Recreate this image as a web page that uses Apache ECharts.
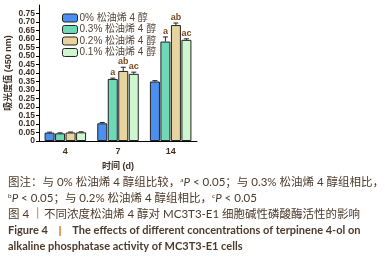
<!DOCTYPE html>
<html>
<head>
<meta charset="utf-8">
<script src="https://cdn.jsdelivr.net/npm/echarts@6/dist/echarts.min.js"></script>
<style>
  html, body { margin: 0; padding: 0; background: #fff; }
  #chart { width: 385px; height: 262px; }
</style>
</head>
<body>
<div id="chart"></div>
<script>
const categories = ["4", "7", "14"];
const seriesNames = ["0% 松油烯 4 醇", "0.3% 松油烯 4 醇", "0.2% 松油烯 4 醇", "0.1% 松油烯 4 醇"];
const values0 = [0.049, 0.104, 0.350];
const values03 = [0.045, 0.365, 0.585];
const values02 = [0.050, 0.412, 0.682];
const values01 = [0.051, 0.395, 0.595];
const errors0 = [0.003, 0.005, 0.005];
const errors03 = [0.003, 0.005, 0.027];
const errors02 = [0.003, 0.022, 0.012];
const errors01 = [0.003, 0.010, 0.006];
const marks0 = ["", "", ""];
const marks03 = ["", "a", "a"];
const marks02 = ["", "ab", "ab"];
const marks01 = ["", "ac", "ac"];
const yTicks = [0, 0.05, 0.1, 0.15, 0.2, 0.25, 0.3, 0.35, 0.4, 0.45, 0.5, 0.55, 0.6, 0.65, 0.7, 0.75];

const colors = ["#4b8ff0", "#6fd8b6", "#e8d49e", "#cff7cf"];
const textColor = "#3f3024";
const capColor = "#4d3a2a";
const barW = 10;
const step = barW * 1.05;

const allValues = [values0, values03, values02, values01];
const allErrors = [errors0, errors03, errors02, errors01];
const allMarks = [marks0, marks03, marks02, marks01];

// error bars + significance letters, one item per bar
const errData = [];
const errMarks = [];
allValues.forEach((vals, s) => {
  vals.forEach((v, c) => {
    errData.push([c, s, v, allErrors[s][c]]);
    errMarks.push(allMarks[s][c]);
  });
});

const chart = echarts.init(document.getElementById("chart"));

const barSeries = seriesNames.map((name, i) => ({
  name: name,
  type: "bar",
  data: allValues[i],
  barWidth: barW,
  barGap: "5%",
  itemStyle: { color: colors[i], borderColor: "#222", borderWidth: 1 },
}));

const supStyle = { fontSize: 6.5, padding: [0, 0, 6, 0], fill: capColor, fontFamily: "Lato" };
const itStyle = { fontSize: 11.5, fontStyle: "italic", fill: capColor, fontFamily: "Lato" };

const option = {
  animation: false,
  textStyle: { fontFamily: "Liberation Sans, Noto Sans CJK SC" },
  grid: { left: 39, top: 5, width: 158, height: 136 },
  legend: {
    orient: "vertical",
    left: 57,
    top: 8,
    itemWidth: 15,
    itemHeight: 8,
    itemGap: 1.5,
    data: seriesNames,
    textStyle: { fontSize: 10, color: "#524438", padding: [0, 0, 0, -3] },
    itemStyle: { borderColor: "#222", borderWidth: 1 },
  },
  xAxis: {
    type: "category",
    data: categories,
    name: "时间 (d)",
    nameLocation: "middle",
    nameGap: 21,
    nameTextStyle: { fontSize: 9, fontWeight: "bold", color: textColor },
    axisLine: { lineStyle: { color: "#000", width: 1 } },
    axisTick: { show: false },
    axisLabel: { fontSize: 9, fontWeight: "bold", color: textColor, margin: 6 },
  },
  yAxis: {
    type: "value",
    min: 0,
    max: 0.8,
    interval: 0.05,
    name: "吸光度值 (450 nm)",
    nameLocation: "middle",
    nameGap: 26,
    nameTextStyle: { fontSize: 9, fontWeight: "bold", color: textColor },
    splitLine: { show: false },
    axisLine: { show: true, lineStyle: { color: "#000", width: 1 } },
    axisTick: { show: true, length: 3, customValues: yTicks, lineStyle: { color: "#000" } },
    axisLabel: {
      fontSize: 8.5,
      fontWeight: "bold",
      color: textColor,
      margin: 4,
      customValues: yTicks,
      formatter: (v) => (v === 0 ? "0" : v.toFixed(2)),
    },
  },
  series: barSeries.concat([
    {
      type: "custom",
      data: errData,
      z: 5,
      encode: { x: 0, y: 2 },
      renderItem: function (params, api) {
        const c = api.value(0);
        const s = api.value(1);
        const v = api.value(2);
        const e = api.value(3);
        const base = api.coord([c, v]);
        const top = api.coord([c, v + e]);
        const x = base[0] + (s - 1.5) * step;
        const children = [
          { type: "line", shape: { x1: x, y1: base[1], x2: x, y2: top[1] }, style: { stroke: "#222", lineWidth: 1 } },
          { type: "line", shape: { x1: x - 2.5, y1: top[1], x2: x + 2.5, y2: top[1] }, style: { stroke: "#222", lineWidth: 1 } },
        ];
        const mark = errMarks[params.dataIndex];
        if (mark) {
          children.push({
            type: "text",
            x: x,
            y: top[1] - 1,
            style: {
              text: mark,
              fill: "#7a4a1e",
              fontSize: 9,
              fontWeight: "bold",
              fontFamily: "Liberation Sans",
              align: "center",
              verticalAlign: "bottom",
            },
          });
        }
        return { type: "group", children: children };
      },
    },
  ]),
  graphic: [
    {
      type: "text",
      left: 8,
      top: 176,
      style: {
        text: "图注：与 0% 松油烯 4 醇组比较，{sup|a}{it|P} < 0.05；与 0.3% 松油烯 4 醇组相比，",
        fontSize: 11.5,
        fontFamily: "Lato, Noto Sans CJK SC",
        fill: capColor,
        rich: { sup: supStyle, it: itStyle },
      },
    },
    {
      type: "text",
      left: 8,
      top: 192,
      style: {
        text: "{sup|b}{it|P} < 0.05；与 0.2% 松油烯 4 醇组相比，{sup|c}{it|P} < 0.05",
        fontSize: 11.5,
        fontFamily: "Lato, Noto Sans CJK SC",
        fill: capColor,
        rich: { sup: supStyle, it: itStyle },
      },
    },
    {
      type: "text",
      left: 8,
      top: 208,
      style: {
        text: "图 4 {bar|丨}不同浓度松油烯 4 醇对 MC3T3-E1 细胞碱性磷酸酶活性的影响",
        fontSize: 11.5,
        fontFamily: "Lato, Noto Sans CJK SC",
        fill: capColor,
        rich: { bar: { fill: "#e07b28", fontSize: 11.5 } },
      },
    },
    {
      type: "text",
      left: 8,
      top: 225,
      style: {
        text: "Figure 4    {bar||}    The effects of different concentrations of terpinene 4-ol on",
        fontSize: 11,
        fontWeight: "bold",
        fontFamily: "Lato",
        fill: capColor,
        rich: { bar: { fill: "#e07b28", fontSize: 11, fontWeight: "bold" } },
      },
    },
    {
      type: "text",
      left: 8,
      top: 241,
      style: {
        text: "alkaline phosphatase activity of MC3T3-E1 cells",
        fontSize: 11,
        fontWeight: "bold",
        fontFamily: "Lato",
        fill: capColor,
      },
    },
  ],
};

chart.setOption(option);
</script>
</body>
</html>
